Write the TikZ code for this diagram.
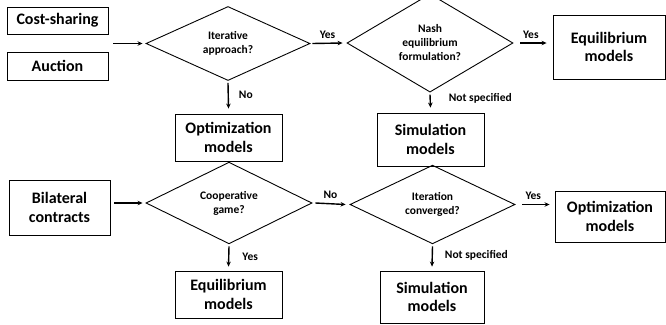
\documentclass[tikz,border=0pt]{standalone}
\usepackage{fontspec}
\setmainfont{Carlito}
\usetikzlibrary{shapes.geometric,arrows.meta}
\begin{document}
\begin{tikzpicture}[x=1pt,y=-1pt,
  box/.style={draw,line width=0.9pt,inner sep=0pt,align=center,font=\fontsize{16}{18.5}\selectfont\bfseries},
  dia/.style={draw,diamond,line width=0.9pt,inner sep=0pt,align=center,font=\fontsize{11.5}{14}\selectfont\bfseries},
  arr/.style={-{Stealth[length=5pt,width=4.5pt]},line width=1.4pt},
  lbl/.style={font=\fontsize{11.5}{13}\selectfont\bfseries,inner sep=0pt}]
\useasboundingbox (0,0) rectangle (666,324);
% top row
\node[box,minimum width=101pt,minimum height=27pt] (cost) at (57.5,20.5) {Cost-sharing};
\node[box,minimum width=101pt,minimum height=28pt] (auc) at (57.5,66) {Auction};
\node[dia,minimum width=164pt,minimum height=65pt] (d1) at (228,43.5) {Iterative\\approach?};
\node[box,minimum width=107pt,minimum height=47pt] (opt1) at (228.5,137.5) {Optimization\\models};
\node[dia,minimum width=166pt,minimum height=66pt] (d2) at (430,43) {Nash\\equilibrium\\formulation?};
\node[box,minimum width=112pt,minimum height=64pt] (eq1) at (609,47) {Equilibrium\\models};
\node[box,minimum width=107pt,minimum height=53pt] (sim1) at (430.5,139.5) {Simulation\\models};
\coordinate (in1) at (113,43.5);
\draw[arr] (in1) -- ([xshift=-3pt]d1.west);
\draw[arr] ([xshift=2pt]d1.east) -- ([xshift=-4pt]d2.west) node[lbl,midway,above=4pt] {Yes};
\draw[arr] ([yshift=-2pt]d1.south) -- ([yshift=5pt]opt1.north) node[lbl,pos=0.45,right=10pt] {No};
\draw[arr] ([xshift=7pt]d2.east) -- ([xshift=-6pt]eq1.west|-d2.east) node[lbl,pos=0.4,above=4pt] {Yes};
\draw[arr] ([yshift=-2pt]d2.south) -- ([yshift=5pt]sim1.north) node[lbl,pos=0.3,right=18pt] {Not specified};
% bottom row
\node[box,minimum width=101pt,minimum height=55pt] (bil) at (59.5,207.5) {Bilateral\\contracts};
\node[dia,minimum width=166pt,minimum height=64pt] (d3) at (229,203) {Cooperative\\game?};
\node[box,minimum width=107pt,minimum height=47pt] (eq2) at (228.5,294.5) {Equilibrium\\models};
\node[dia,minimum width=165pt,minimum height=64pt] (d4) at (432.5,204.5) {Iteration\\converged?};
\node[box,minimum width=110pt,minimum height=51pt] (opt2) at (610,216.5) {Optimization\\models};
\node[box,minimum width=104pt,minimum height=52pt] (sim2) at (432,297) {Simulation\\models};
\draw[arr] ([xshift=4pt]bil.east|-d3.west) -- ([xshift=-3pt]d3.west);
\draw[arr] ([xshift=3pt]d3.east) -- ([xshift=-4pt]d4.west) node[lbl,midway,above=4pt] {No};
\draw[arr] ([yshift=-2pt]d3.south) -- ([yshift=4pt]eq2.north) node[lbl,midway,right=13pt] {Yes};
\draw[arr] ([xshift=7pt]d4.east) -- ([xshift=-5pt]opt2.west|-d4.east) node[lbl,pos=0.4,above=4pt] {Yes};
\draw[arr] ([yshift=-2pt]d4.south) -- ([yshift=4pt]sim2.north) node[lbl,pos=0.45,right=12pt] {Not specified};
\end{tikzpicture}
\end{document}
